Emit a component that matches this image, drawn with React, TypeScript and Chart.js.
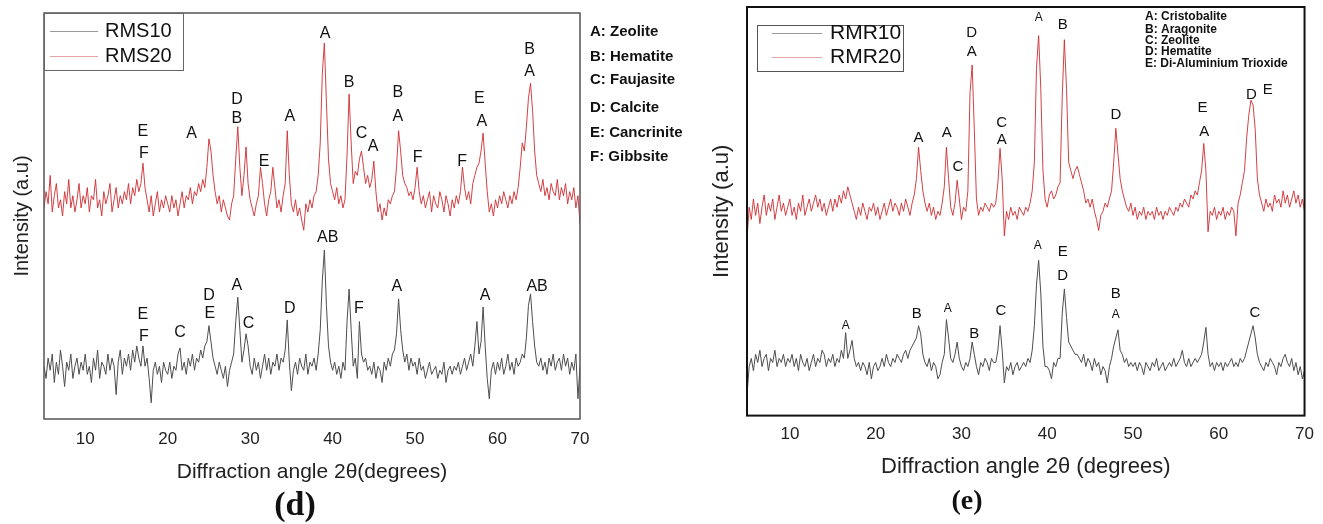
import React, { useEffect, useRef } from "react";
import { Chart, registerables } from "chart.js";

Chart.register(...registerables);

// ---------- data ----------
const ANGLE_START = 5; // 2θ of first sample (degrees)
const ANGLE_STEP = 0.25; // 2θ sampling step (degrees)
const X_TICKS = [10, 20, 30, 40, 50, 60, 70];

const SERIES_D = ["RMS10", "RMS20"];
const SERIES_E = ["RMR10", "RMR20"];

// panel (d)
const RMS10 = [
  13, 10, 15, 12, 16, 9, 14, 11, 17, 13, 8, 14, 12, 16, 10, 13, 15, 11, 14, 12,
  16, 11, 13, 9, 15, 12, 17, 10, 14, 13, 11, 16, 12, 15, 13, 6, 14, 17, 11, 15,
  13, 16, 12, 17, 14, 18, 15, 13, 18, 13, 15, 10, 4, 12, 14, 11, 13, 9, 14, 12,
  11, 14, 10, 13, 12, 16, 17.5, 12, 14, 11, 15, 13, 16, 12, 15, 14, 17, 15, 18, 19,
  23, 19, 15, 13, 11, 14, 12, 10, 13, 8, 12, 14, 16, 24, 30, 22, 14, 17, 21, 18,
  13, 11, 15, 12, 14, 10, 13, 16, 12, 15, 11, 14, 13, 16, 12, 15, 14, 17, 24.4, 14,
  7, 12, 14, 11, 15, 13, 12, 16, 11, 14, 13, 15, 12, 16, 22, 34, 41.6, 28, 18, 14,
  12, 14, 11, 13, 10, 14, 12, 24, 32, 22, 13, 15, 10, 24, 16, 14, 15, 12, 13, 11,
  14, 10, 13, 12, 9, 14, 12, 15, 13, 16, 17, 21, 29.6, 22, 17, 14, 16, 12, 15, 13,
  14, 11, 15, 12, 13, 10, 12, 14, 11, 12, 13, 10, 12, 11, 14, 9, 12, 13, 11, 13,
  12, 14, 11, 13, 15, 12, 14, 16, 13, 18, 24, 16, 19, 27.6, 18, 10, 5, 12, 14, 11,
  14, 12, 15, 11, 13, 16, 12, 14, 11, 15, 13, 14, 16, 15, 20, 28, 30.8, 24, 18, 14,
  13, 15, 12, 14, 11, 15, 13, 16, 12, 14, 15, 12, 16, 13, 15, 11, 14, 12, 16, 5,
  13,
];
const RMS20 = [
  52, 56, 53, 60, 51, 55, 58, 52, 54, 50, 56, 53, 59, 52, 55, 51, 54, 58, 52, 55,
  53, 57, 51, 55, 54, 59, 52, 54, 50, 56, 53, 55, 58, 51, 54, 57, 52, 55, 53, 56,
  54, 58, 53, 57, 55, 59, 56, 58, 63, 57, 54, 51, 55, 50, 53, 56, 51, 54, 52, 55,
  53, 51, 55, 52, 54, 50, 53, 56, 52, 55, 54, 57, 53, 56, 55, 58, 56, 59, 57, 62,
  69, 66, 60, 56, 53, 55, 51, 54, 52, 50, 49, 53, 55, 64, 72, 62, 55, 60, 67, 58,
  54, 52, 50, 53, 55, 62, 58, 53, 50, 54, 56, 62, 57, 52, 54, 51, 55, 58, 71, 60,
  53, 51, 54, 50, 52, 49, 46.5, 53, 51, 54, 52, 55, 56, 60, 68, 85, 92.6, 78, 64, 58,
  56, 54, 57, 53, 55, 52, 54, 65, 80, 68, 58, 61, 60, 64, 66, 62, 58, 60, 57, 59,
  63.5, 56, 51, 53, 49, 52, 50, 54, 53, 55, 56, 62, 71, 66, 60, 58, 57, 55, 56, 54,
  57, 62, 56, 53, 55, 52, 54, 56, 51, 55, 53, 52, 56, 54, 51, 55, 53, 50, 54, 52,
  55, 53, 56, 62, 57, 54, 56, 53, 58, 60, 62, 63, 66, 70.4, 63, 56, 51, 53, 50, 54,
  52, 55, 53, 56, 54, 52, 55, 53, 56, 54, 57, 62, 68, 66, 72, 79, 82.7, 76, 66, 60,
  58, 56, 59, 55, 57, 54, 58, 56, 55, 59, 54, 57, 55, 58, 53, 56, 54, 57, 52, 55,
  48,
];

// panel (e)
const RMR10 = [
  5, 12, 14, 11, 15, 13, 16, 12, 14, 15, 11, 14, 13, 16, 12, 14, 13, 15, 12, 14,
  13, 15, 12, 14, 11, 15, 13, 12, 14, 11, 13, 15, 12, 14, 13, 16, 15, 12, 14, 13,
  15, 12, 14, 13, 16, 14, 20.3, 14, 16, 18.4, 14, 12, 13, 11, 13, 12, 10, 13, 9, 12,
  13, 11, 12, 14, 12, 15, 13, 12, 14, 13, 15, 14, 13, 15, 16, 14, 16, 17, 18, 19,
  22, 20, 15, 13, 12, 14, 11, 13, 12, 9, 10, 13, 15, 23.5, 19, 14, 13, 15, 18, 14,
  12, 11, 13, 12, 14, 18, 15, 12, 10, 13, 12, 14, 13, 11, 14, 13, 13, 16, 22, 16,
  8, 12, 11, 13, 10, 12, 13, 11, 12, 13, 12, 14, 13, 16, 22, 32, 38, 30, 17, 12,
  12, 11, 9, 13, 12, 14, 14, 25, 31, 24, 18, 17, 16, 15, 15, 14, 13, 15, 12, 14,
  13, 11, 14, 12, 13, 10, 12, 11, 8, 12, 14, 17, 19, 21, 16, 15, 13, 14, 12, 13,
  12, 13, 11, 13, 12, 10, 13, 12, 11, 13, 12, 14, 11, 12, 13, 11, 12, 13, 12, 14,
  12, 13, 14, 16, 13, 12, 14, 12, 13, 14, 13, 14, 15, 18, 21.6, 15, 12, 13, 11, 13,
  12, 13, 11, 13, 12, 13, 14, 12, 13, 12, 14, 13, 14, 16, 18, 20, 22, 19, 15, 13,
  12, 11, 13, 12, 14, 13, 12, 10, 13, 12, 14, 15, 13, 12, 14, 11, 13, 10, 12, 9,
  11,
];
const RMR20 = [
  43, 51, 48, 53, 49, 52, 47, 51, 54, 49, 52, 50, 53, 48, 51, 54, 50, 52, 49, 51,
  53, 49, 51, 48, 52, 50, 54, 49, 51, 53, 50, 52, 54, 51, 53, 50, 52, 49, 51, 53,
  50, 53, 51, 54, 52, 55, 53, 56, 54, 52, 50, 48, 51, 49, 52, 50, 48, 51, 50, 52,
  49, 51, 48, 50, 52, 49, 51, 53, 50, 52, 51, 49, 52, 50, 53, 51, 49, 52, 54, 58,
  65.7, 60, 55, 52, 50, 52, 49, 51, 48, 50, 49, 52, 56, 65.7, 58, 51, 49, 52, 57.6, 53,
  48, 51, 50, 55, 79, 85.8, 70, 53, 49, 51, 50, 52, 51, 50, 52, 51, 52, 57, 65.4, 58,
  44, 50, 48, 51, 49, 50, 48, 51, 50, 49, 51, 50, 52, 55, 62, 85, 93, 80, 60, 53,
  51, 54, 55, 53, 54, 56, 57, 78, 92, 80, 62, 60, 58, 60, 61, 59, 57, 55, 52, 53,
  51, 53, 50, 48, 45.3, 49, 50, 52, 51, 53, 55, 62, 70.3, 64, 58, 55, 53, 51, 50, 52,
  49, 51, 48, 50, 49, 51, 48, 50, 49, 50, 48, 51, 49, 50, 48, 50, 49, 51, 50, 49,
  51, 50, 52, 51, 53, 52, 51, 54, 53, 55, 54, 57, 60, 66.6, 60, 45, 50, 49, 51, 48,
  50, 49, 51, 48, 50, 49, 51, 50, 44, 52, 54, 57, 60, 68, 73.5, 77.2, 76, 70, 58, 54,
  52, 50, 53, 51, 52, 50, 54, 52, 53, 51, 55, 52, 54, 51, 53, 55, 52, 54, 51, 53,
  50,
];

// peak annotations: [text, 2θ, intensity level]
const PEAKS_D: [string, number, number][] = [
  ["E", 17, 70.7], ["F", 17.1, 65.3], ["A", 22.9, 70.4], ["D", 28.4, 78.6], ["B", 28.4, 73.9],
  ["E", 31.7, 63.3], ["A", 34.8, 74.4], ["A", 39.1, 95], ["B", 42, 82.8], ["C", 43.5, 70.4],
  ["A", 44.9, 67.2], ["B", 47.9, 80.3], ["A", 47.9, 74.4], ["F", 50.3, 64.3], ["F", 55.7, 63.3],
  ["E", 57.8, 79], ["A", 58.1, 73.2], ["B", 63.9, 90.9], ["A", 63.9, 85.5],
  ["E", 17, 25.6], ["F", 17.1, 20.4], ["C", 21.5, 21.4], ["D", 25, 30.5], ["E", 25.1, 25.9],
  ["A", 28.4, 32.8], ["C", 29.8, 23.4], ["D", 34.8, 27.1], ["AB", 39.4, 44.6], ["F", 43.2, 27.1],
  ["A", 47.8, 32.5], ["A", 58.5, 30.5], ["AB", 64.8, 32.5],
];
const PEAKS_E: [string, number, number][] = [
  ["A", 25, 67.9], ["A", 28.3, 69.1], ["C", 29.6, 60.8], ["D", 31.2, 93.6], ["A", 31.2, 89],
  ["C", 34.7, 71.6], ["A", 34.7, 67.4], ["B", 41.8, 95.6], ["D", 48, 73.5], ["E", 58.1, 75.2],
  ["A", 58.3, 69.4], ["D", 63.8, 78.4], ["E", 65.7, 79.7],
  ["B", 24.8, 24.8], ["B", 31.5, 20.1], ["C", 34.6, 25.7], ["E", 41.8, 40], ["D", 41.8, 34.3],
  ["B", 48, 29.7], ["C", 64.2, 25.2],
];
const PEAKS_E_SMALL: [string, number, number][] = [
  ["A", 39, 97.5], ["A", 16.5, 22.1], ["A", 28.4, 26.2], ["A", 38.9, 41.5], ["A", 48, 24.8],
];

const PHASES_D = ["A: Zeolite", "B: Hematite", "C: Faujasite", "D: Calcite", "E: Cancrinite", "F: Gibbsite"];
const PHASES_E = ["A: Cristobalite", "B: Aragonite", "C: Zeolite", "D: Hematite", "E: Di-Aluminium Trioxide"];

// ---------- drawing ----------
const SANS = '"Liberation Sans", Arial, sans-serif';
const SERIF = '"Liberation Serif", "Times New Roman", serif';

type PanelCfg = {
  width: number;
  height: number;
  names: string[];
  series: number[][];
  colors: string[];
  sampleColors: string[];
  padding: { left: number; right: number; top: number; bottom: number };
  xTitle: string;
  xTitleSize: number;
  xTitlePadTop: number;
  tickPad: number;
  yTitleSize: number;
  yTitlePad: { top: number; bottom: number };
  frameColor: string;
  frameWidth: number;
  peaks: [string, number, number][];
  peakSize: number;
  smallPeaks: [string, number, number][];
  smallPeakSize: number;
  legend: { x: number; y: number; w: number; h: number; rows: number[]; line: number[]; textX: number; size: number; stroke: string };
  phases: string[];
  phaseX: number;
  phaseY: number[];
  phaseSize: number;
  panelLabel: string;
  panelLabelX: number;
  panelLabelY: number;
  panelLabelSize: number;
};

const toPoints = (vals: number[]) => vals.map((v, i) => ({ x: ANGLE_START + i * ANGLE_STEP, y: v }));

function decorPlugin(p: PanelCfg) {
  return {
    id: "xrdDecor",
    afterDatasetsDraw(chart: any) {
      const { ctx, chartArea: a, scales } = chart;
      ctx.save();
      // frame
      ctx.strokeStyle = p.frameColor;
      ctx.lineWidth = p.frameWidth;
      ctx.strokeRect(a.left, a.top, a.right - a.left, a.bottom - a.top);
      // peak labels
      ctx.fillStyle = "#111";
      ctx.textAlign = "center";
      ctx.textBaseline = "middle";
      ctx.font = `${p.peakSize}px ${SANS}`;
      for (const [t, x, y] of p.peaks) ctx.fillText(t, scales.x.getPixelForValue(x), scales.y.getPixelForValue(y));
      ctx.font = `${p.smallPeakSize}px ${SANS}`;
      for (const [t, x, y] of p.smallPeaks) ctx.fillText(t, scales.x.getPixelForValue(x), scales.y.getPixelForValue(y));
      // series legend box
      const L = p.legend;
      const bx = a.left + L.x;
      const by = a.top + L.y;
      ctx.strokeStyle = L.stroke;
      ctx.lineWidth = 1;
      ctx.strokeRect(bx + 0.5, by + 0.5, L.w, L.h);
      ctx.textAlign = "left";
      ctx.font = `${L.size}px ${SANS}`;
      chart.data.datasets.forEach((ds: any, i: number) => {
        const yy = by + L.rows[i];
        ctx.strokeStyle = p.sampleColors[i];
        ctx.beginPath();
        ctx.moveTo(bx + L.line[0], yy + 0.5);
        ctx.lineTo(bx + L.line[1], yy + 0.5);
        ctx.stroke();
        ctx.fillStyle = "#111";
        ctx.fillText(ds.label, bx + L.textX, yy);
      });
      // phase list
      ctx.font = `bold ${p.phaseSize}px ${SANS}`;
      p.phases.forEach((t, i) => ctx.fillText(t, p.phaseX, p.phaseY[i]));
      // panel label
      ctx.textAlign = "center";
      ctx.font = `bold ${p.panelLabelSize}px ${SERIF}`;
      ctx.fillText(p.panelLabel, p.panelLabelX, p.panelLabelY);
      ctx.restore();
    },
  };
}

function buildConfig(p: PanelCfg): any {
  return {
    type: "line",
    data: {
      datasets: p.series.map((vals, i) => ({
        label: p.names[i],
        data: toPoints(vals),
        borderColor: p.colors[i],
        borderWidth: 1,
        pointRadius: 0,
        tension: 0,
        fill: false,
      })),
    },
    options: {
      animation: false,
      responsive: false,
      maintainAspectRatio: false,
      layout: { padding: p.padding },
      plugins: { legend: { display: false }, tooltip: { enabled: false } },
      scales: {
        x: {
          type: "linear",
          min: 5,
          max: 70,
          afterBuildTicks: (s: any) => {
            s.ticks = X_TICKS.map((v) => ({ value: v }));
          },
          grid: { display: false, drawTicks: false },
          border: { display: false },
          ticks: { color: "#222", padding: p.tickPad, font: { family: SANS, size: 17 }, maxRotation: 0 },
          title: {
            display: true,
            text: p.xTitle,
            color: "#222",
            font: { family: SANS, size: p.xTitleSize },
            padding: { top: p.xTitlePadTop, bottom: 0 },
          },
        },
        y: {
          type: "linear",
          min: 0,
          max: 100,
          grid: { display: false, drawTicks: false },
          border: { display: false },
          ticks: { display: false },
          title: {
            display: true,
            text: "Intensity (a.u)",
            color: "#222",
            font: { family: SANS, size: p.yTitleSize },
            padding: p.yTitlePad,
          },
        },
      },
    },
    plugins: [decorPlugin(p)],
  };
}

function XrdPanel({ cfg }: { cfg: PanelCfg }) {
  const ref = useRef<HTMLCanvasElement>(null);
  useEffect(() => {
    const chart = new Chart(ref.current as HTMLCanvasElement, buildConfig(cfg));
    return () => chart.destroy();
  }, [cfg]);
  return (
    <canvas ref={ref} width={cfg.width} height={cfg.height} style={{ display: "block", width: cfg.width, height: cfg.height }} />
  );
}

const PANEL_D: PanelCfg = {
  width: 700,
  height: 524,
  names: SERIES_D,
  series: [RMS10, RMS20],
  colors: ["#4d4d4d", "rgba(205,45,50,0.9)"],
  sampleColors: ["#9a9a9a", "#e6a3a3"],
  padding: { left: 0, right: 120, top: 13, bottom: 39.4 },
  xTitle: "Diffraction angle 2\u03b8(degrees)",
  xTitleSize: 21,
  xTitlePadTop: 0,
  tickPad: 10,
  yTitleSize: 20,
  yTitlePad: { top: 10, bottom: 10 },
  frameColor: "#555",
  frameWidth: 1.5,
  peaks: PEAKS_D,
  peakSize: 16,
  smallPeaks: [],
  smallPeakSize: 12,
  legend: { x: 0, y: 0, w: 139, h: 57, rows: [18, 43], line: [6, 54], textX: 61, size: 20, stroke: "#666" },
  phases: PHASES_D,
  phaseX: 590,
  phaseY: [32, 57, 80, 108, 133, 157],
  phaseSize: 15,
  panelLabel: "(d)",
  panelLabelX: 295,
  panelLabelY: 506,
  panelLabelSize: 34,
};

const PANEL_E: PanelCfg = {
  width: 623,
  height: 524,
  names: SERIES_E,
  series: [RMR10, RMR20],
  colors: ["#4d4d4d", "rgba(205,45,50,0.9)"],
  sampleColors: ["#9a9a9a", "#e6a3a3"],
  padding: { left: 0, right: 16, top: 7, bottom: 43.6 },
  xTitle: "Diffraction angle 2\u03b8 (degrees)",
  xTitleSize: 22,
  xTitlePadTop: 0,
  tickPad: 9,
  yTitleSize: 22,
  yTitlePad: { top: 8.8, bottom: 11.8 },
  frameColor: "#111",
  frameWidth: 2,
  peaks: PEAKS_E,
  peakSize: 15,
  smallPeaks: PEAKS_E_SMALL,
  smallPeakSize: 12,
  legend: { x: 10, y: 18, w: 146, h: 46, rows: [8, 32], line: [15, 65], textX: 73, size: 21, stroke: "#555" },
  phases: PHASES_E,
  phaseX: 445,
  phaseY: [17, 30, 41, 52, 64],
  phaseSize: 12,
  panelLabel: "(e)",
  panelLabelX: 267,
  panelLabelY: 502,
  panelLabelSize: 28,
};

export default function App() {
  return (
    <div style={{ position: "absolute", left: 0, top: 0, width: 1323, height: 524, background: "#fff", overflow: "hidden" }}>
      <div style={{ position: "absolute", left: 0, top: 0 }}>
        <XrdPanel cfg={PANEL_D} />
      </div>
      <div style={{ position: "absolute", left: 700, top: 0 }}>
        <XrdPanel cfg={PANEL_E} />
      </div>
    </div>
  );
}
